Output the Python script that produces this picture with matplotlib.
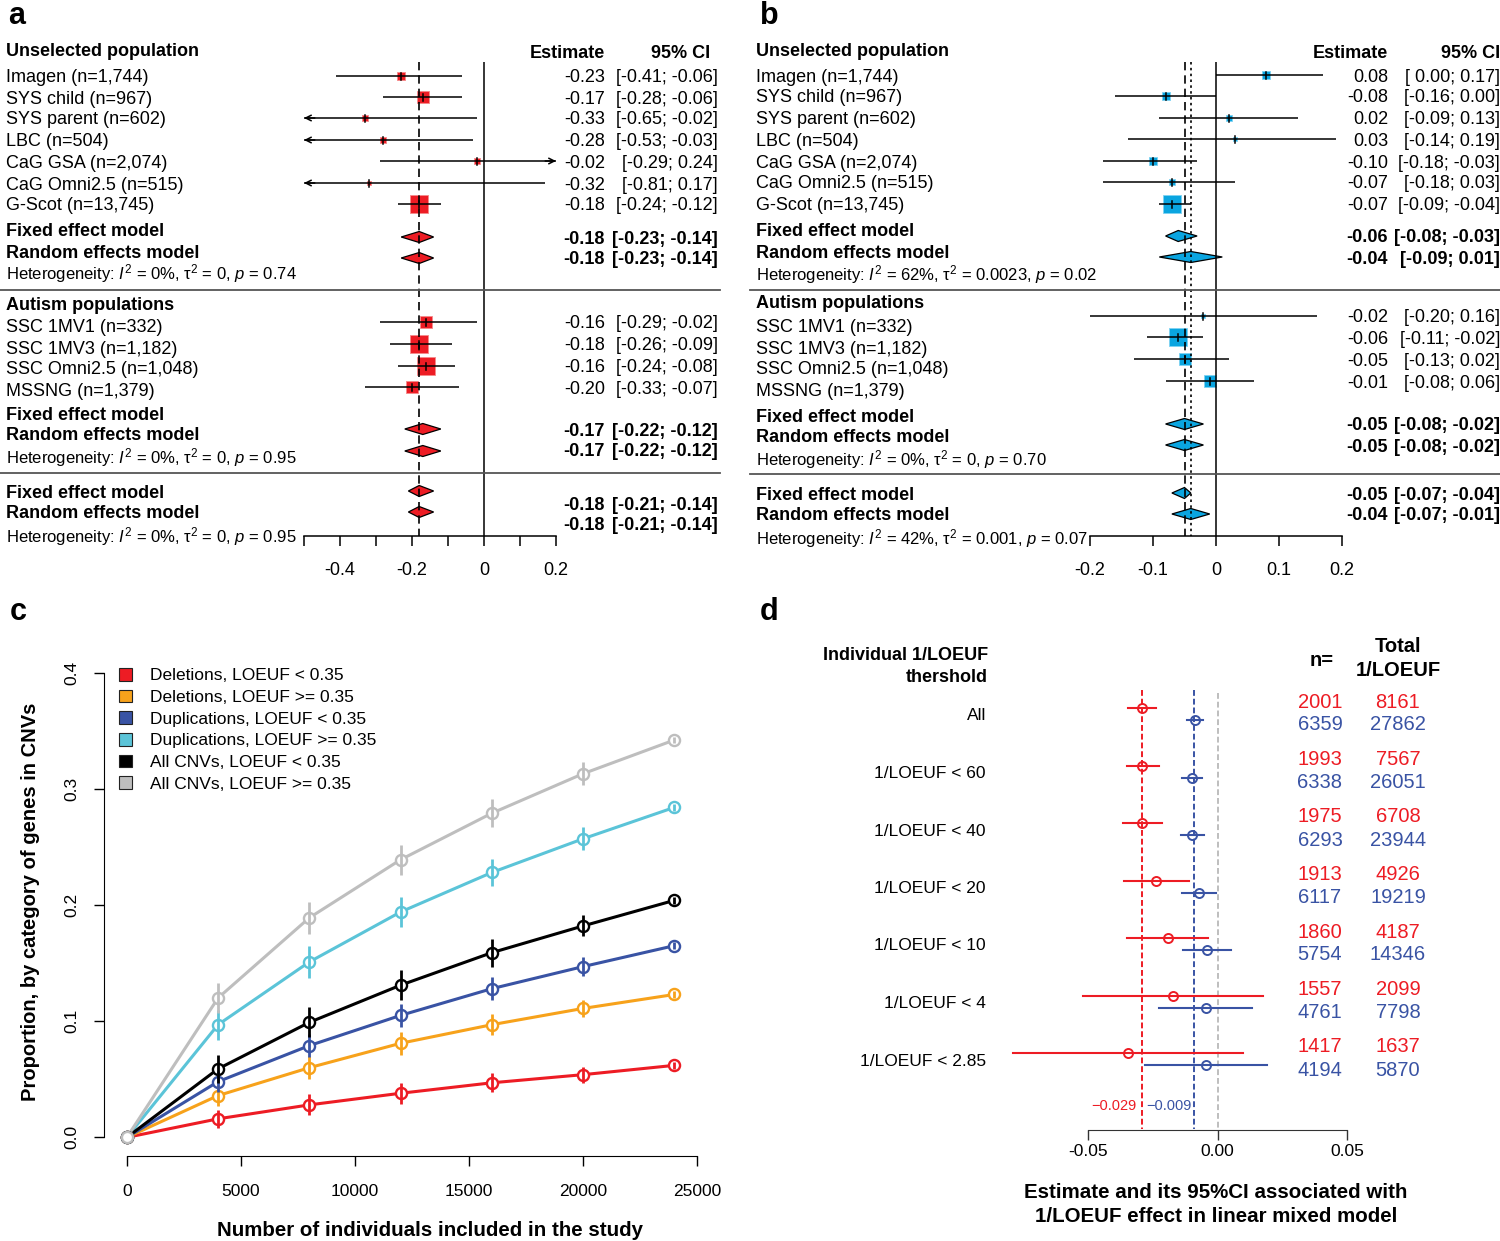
"""Four-panel figure: two meta-analysis forest plots (a, b), CNV gene
proportions vs sample size (c) and 1/LOEUF threshold estimates (d)."""

import matplotlib
matplotlib.use("Agg")
import matplotlib.pyplot as plt
from matplotlib.transforms import Affine2D
from matplotlib.patches import Polygon, Patch

W, H = 1500, 1241

plt.rcParams["font.family"] = ["Liberation Sans", "DejaVu Sans"]
plt.rcParams["mathtext.fontset"] = "custom"
plt.rcParams["mathtext.rm"] = "Liberation Sans"
plt.rcParams["mathtext.it"] = "Liberation Sans:italic"
plt.rcParams["mathtext.bf"] = "Liberation Sans:bold"

# ---------------------------------------------------------------- panel a
a_unsel_names = ["Imagen (n=1,744)", "SYS child (n=967)", "SYS parent (n=602)",
                 "LBC (n=504)", "CaG GSA (n=2,074)", "CaG Omni2.5 (n=515)",
                 "G-Scot (n=13,745)"]
a_unsel_est = [-0.23, -0.17, -0.33, -0.28, -0.02, -0.32, -0.18]
a_unsel_lo = [-0.41, -0.28, -0.65, -0.53, -0.29, -0.81, -0.24]
a_unsel_hi = [-0.06, -0.06, -0.02, -0.03, 0.24, 0.17, -0.12]
a_unsel_weight = [8.5, 21.0, 4.3, 4.3, 4.3, 1.6, 56.0]
a_unsel_fixed = (-0.18, -0.23, -0.14)
a_unsel_random = (-0.18, -0.23, -0.14)
a_unsel_het = ("0%", "0", "0.74")

a_aut_names = ["SSC 1MV1 (n=332)", "SSC 1MV3 (n=1,182)", "SSC Omni2.5 (n=1,048)",
               "MSSNG (n=1,379)"]
a_aut_est = [-0.16, -0.18, -0.16, -0.20]
a_aut_lo = [-0.29, -0.26, -0.24, -0.33]
a_aut_hi = [-0.02, -0.09, -0.08, -0.07]
a_aut_weight = [15.4, 34.6, 34.6, 15.4]
a_aut_fixed = (-0.17, -0.22, -0.12)
a_aut_random = (-0.17, -0.22, -0.12)
a_aut_het = ("0%", "0", "0.95")

a_all_fixed = (-0.18, -0.21, -0.14)
a_all_random = (-0.18, -0.21, -0.14)
a_all_het = ("0%", "0", "0.95")

# ---------------------------------------------------------------- panel b
b_unsel_names = a_unsel_names
b_unsel_est = [0.08, -0.08, 0.02, 0.03, -0.10, -0.07, -0.07]
b_unsel_lo = [0.00, -0.16, -0.09, -0.14, -0.18, -0.18, -0.09]
b_unsel_hi = [0.17, 0.00, 0.13, 0.19, -0.03, 0.03, -0.04]
b_unsel_weight = [8.7, 11.4, 4.4, 2.8, 8.7, 6.4, 57.5]
b_unsel_fixed = (-0.06, -0.08, -0.03)
b_unsel_random = (-0.04, -0.09, 0.01)
b_unsel_het = ("62%", "0.0023", "0.02")

b_aut_names = a_aut_names
b_aut_est = [-0.02, -0.06, -0.05, -0.01]
b_aut_lo = [-0.20, -0.11, -0.13, -0.08]
b_aut_hi = [0.16, -0.02, 0.02, 0.06]
b_aut_weight = [3.7, 53.6, 21.4, 21.4]
b_aut_fixed = (-0.05, -0.08, -0.02)
b_aut_random = (-0.05, -0.08, -0.02)
b_aut_het = ("0%", "0", "0.70")

b_all_fixed = (-0.05, -0.07, -0.04)
b_all_random = (-0.04, -0.07, -0.01)
b_all_het = ("42%", "0.001", "0.07")

# ---------------------------------------------------------------- panel c
c_n = [0, 4000, 8000, 12000, 16000, 20000, 24000]
c_labels = ["Deletions, LOEUF < 0.35", "Deletions, LOEUF >= 0.35",
            "Duplications, LOEUF < 0.35", "Duplications, LOEUF >= 0.35",
            "All CNVs, LOEUF < 0.35", "All CNVs, LOEUF >= 0.35"]
c_del_low = [0, 0.016, 0.028, 0.038, 0.047, 0.054, 0.062]
c_del_high = [0, 0.036, 0.060, 0.081, 0.097, 0.111, 0.123]
c_dup_low = [0, 0.048, 0.079, 0.105, 0.128, 0.147, 0.165]
c_dup_high = [0, 0.097, 0.151, 0.194, 0.228, 0.257, 0.284]
c_all_low = [0, 0.059, 0.099, 0.131, 0.159, 0.182, 0.204]
c_all_high = [0, 0.120, 0.189, 0.239, 0.279, 0.313, 0.342]
c_del_low_err = [0, 0.008, 0.009, 0.009, 0.008, 0.007, 0.003]
c_del_high_err = [0, 0.009, 0.010, 0.010, 0.009, 0.007, 0.003]
c_dup_low_err = [0, 0.009, 0.010, 0.010, 0.010, 0.008, 0.003]
c_dup_high_err = [0, 0.013, 0.014, 0.013, 0.012, 0.010, 0.003]
c_all_low_err = [0, 0.012, 0.013, 0.013, 0.012, 0.009, 0.003]
c_all_high_err = [0, 0.013, 0.014, 0.013, 0.012, 0.010, 0.003]

# ---------------------------------------------------------------- panel d
d_thresholds = ["All", "1/LOEUF < 60", "1/LOEUF < 40", "1/LOEUF < 20",
                "1/LOEUF < 10", "1/LOEUF < 4", "1/LOEUF < 2.85"]
d_del_est = [-0.029, -0.029, -0.029, -0.0237, -0.0191, -0.0172, -0.0346]
d_del_lo = [-0.0346, -0.035, -0.0365, -0.036, -0.0349, -0.0518, -0.079]
d_del_hi = [-0.0237, -0.0226, -0.0214, -0.011, -0.0037, 0.0176, 0.0099]
d_dup_est = [-0.0087, -0.0098, -0.0098, -0.0071, -0.0041, -0.0045, -0.0045]
d_dup_lo = [-0.0118, -0.0137, -0.0141, -0.0137, -0.0133, -0.0225, -0.028]
d_dup_hi = [-0.0056, -0.006, -0.0052, -0.0006, 0.0052, 0.0134, 0.019]
d_del_n = [2001, 1993, 1975, 1913, 1860, 1557, 1417]
d_del_total = [8161, 7567, 6708, 4926, 4187, 2099, 1637]
d_dup_n = [6359, 6338, 6293, 6117, 5754, 4761, 4194]
d_dup_total = [27862, 26051, 23944, 19219, 14346, 7798, 5870]
d_del_mean = -0.029
d_dup_mean = -0.009

RED = "#ED1C24"
CYAN = "#0AA5E0"
BLUE = "#3953A4"
ORANGE = "#F7A21B"
LIGHTBLUE = "#5BC4D8"
GREY = "#BEBEBE"

fig = plt.figure(figsize=(W / 100, H / 100), dpi=100)
PX = Affine2D().scale(1.0 / W, -1.0 / H).translate(0, 1) + fig.transFigure


def txt(x, y, s, **kw):
    # y is where the glyphs look centred; nudge for the descender space
    kw.setdefault("fontsize", 13)
    kw.setdefault("va", "center")
    dy = 0 if kw.get("rotation") else 2
    fig.text(x, y + dy, s, transform=PX, **kw)


def px_axes(x0, x1, xlim):
    """Full-height axes: x in data units, y in figure pixels (top down)."""
    ax = fig.add_axes([x0 / W, 0, (x1 - x0) / W, 1])
    ax.set_xlim(*xlim)
    ax.set_ylim(H, 0)
    ax.patch.set_visible(False)
    for s in ["top", "left", "right"]:
        ax.spines[s].set_visible(False)
    ax.tick_params(left=False, labelleft=False)
    return ax


def diamond(ax, est, lo, hi, y, color):
    ax.add_patch(Polygon([(lo, y), (est, y - 5.5), (hi, y), (est, y + 5.5)],
                         closed=True, facecolor=color, edgecolor="black",
                         lw=0.9, zorder=3, clip_on=False))


def het_text(het):
    i2, tau2, p = het
    return (r"Heterogeneity: $I^2$ = " + i2
            + r", $\mathrm{\tau}^2$ = " + tau2 + r", $p$ = " + p)


def forest(ax, groups, overall, lay, color, edge):
    xmin, xmax = ax.get_xlim()
    xl, xe, xc = lay["x_label"], lay["x_est"], lay["x_ci"]
    txt(xl, 50, "Unselected population", fontweight="bold")
    txt(xe, 52, "Estimate", ha="right", fontweight="bold")
    txt(lay["x_ci_head"], 52, "95% CI", ha="right", fontweight="bold")

    def values(y, est, lo, hi, bold=False):
        fw = "bold" if bold else "normal"
        txt(xe, y, f"{est:.2f}", ha="right", fontweight=fw)
        txt(xc, y, f"[{lo:5.2f}; {hi:.2f}]", ha="right", fontweight=fw)

    for g, (names, est, lo, hi, wt, fixed, random, het) in enumerate(groups):
        if g == 1:
            txt(xl, lay["head2_y"], "Autism populations", fontweight="bold")
        wmax = max(wt)
        for i in range(len(names)):
            ly, my = lay["study_lab_y"][g][i], lay["study_y"][g][i]
            txt(xl, ly, names[i])
            side = 18.5 * (wt[i] / wmax) ** 0.5
            ax.scatter([est[i]], [my], marker="s", s=(side * 0.72) ** 2,
                       color=color, edgecolors=edge, linewidths=0.6,
                       zorder=2, clip_on=False)
            l, h = max(lo[i], xmin), min(hi[i], xmax)
            ax.plot([l, h], [my, my], color="black", lw=1.1, zorder=3,
                    solid_capstyle="butt", clip_on=False)
            ax.plot([est[i], est[i]], [my - 3.5, my + 3.5], color="black",
                    lw=1.1, zorder=3, clip_on=False)
            for end, lim in ((lo[i], xmin), (hi[i], xmax)):
                if (end < lim and lim == xmin) or (end > lim and lim == xmax):
                    back = lim + (0.03 if lim == xmin else -0.03)
                    ax.annotate("", xy=(lim, my), xytext=(back, my),
                                annotation_clip=False,
                                arrowprops=dict(arrowstyle="->", lw=1.1,
                                                color="black", shrinkA=0,
                                                shrinkB=0))
            values(my, est[i], lo[i], hi[i])
        for k, (lab, s) in enumerate([("Fixed effect model", fixed),
                                      ("Random effects model", random)]):
            txt(xl, lay["sum_lab_y"][g][k], lab, fontweight="bold")
            diamond(ax, s[0], s[1], s[2], lay["sum_y"][g][k], color)
            values(lay["sum_val_y"][g][k], *s, bold=True)
        txt(xl, lay["het_y"][g], het_text(het), fontsize=12)
        fig.add_artist(plt.Line2D(lay["sep_x"], [1 - lay["sep_y"][g] / H] * 2,
                                  transform=fig.transFigure, color="#555555",
                                  lw=1.3))

    fixed, random, het = overall
    for k, (lab, s) in enumerate([("Fixed effect model", fixed),
                                  ("Random effects model", random)]):
        txt(xl, lay["sum_lab_y"][2][k], lab, fontweight="bold")
        diamond(ax, s[0], s[1], s[2], lay["sum_y"][2][k], color)
        values(lay["sum_val_y"][2][k], *s, bold=True)
    txt(xl, lay["het_y"][2], het_text(het), fontsize=12)

    ax.vlines(0, 62, 536, color="black", lw=1.1, zorder=4)
    ax.vlines(fixed[0], 62, 536, color="black", lw=1.2, zorder=4,
              linestyles=(0, (5, 3)))
    if random[0] != fixed[0]:
        ax.vlines(random[0], 62, 536, color="black", lw=1.2, zorder=4,
                  linestyles=(0, (1.5, 2)))

    ax.spines["bottom"].set_position(("data", 536))
    ax.spines["bottom"].set_bounds(xmin, xmax)
    ax.spines["bottom"].set_linewidth(1.1)
    ax.tick_params(axis="x", length=7, width=1.1, labelsize=13, pad=12)


def fmt_px(lst):
    return [x / W for x in lst]


# ---- panel a
ax_a = px_axes(304, 556, (-0.5, 0.2))
lay_a = dict(x_label=6, x_est=605, x_ci=718, x_ci_head=710, head2_y=304,
             study_lab_y=[[76, 97, 118, 140, 161, 183, 204], [325, 347, 368, 389]],
             study_y=[[76, 97, 118, 140, 161, 183, 204], [322, 344, 366, 387]],
             sum_lab_y=[[229, 251], [413, 434], [491, 512]],
             sum_y=[[237, 258], [429, 451], [491, 512]],
             sum_val_y=[[237, 258], [429, 450], [503, 524]],
             het_y=[272, 456, 535], sep_y=[290, 473], sep_x=fmt_px([0, 720]))
forest(ax_a,
       [(a_unsel_names, a_unsel_est, a_unsel_lo, a_unsel_hi, a_unsel_weight,
         a_unsel_fixed, a_unsel_random, a_unsel_het),
        (a_aut_names, a_aut_est, a_aut_lo, a_aut_hi, a_aut_weight,
         a_aut_fixed, a_aut_random, a_aut_het)],
       (a_all_fixed, a_all_random, a_all_het), lay_a, RED, "#F58A8A")
ax_a.set_xticks([-0.5, -0.4, -0.3, -0.2, -0.1, 0, 0.1, 0.2])
ax_a.set_xticklabels(["", "-0.4", "", "-0.2", "", "0", "", "0.2"])

# ---- panel b
ax_b = px_axes(1090, 1342, (-0.2, 0.2))
lay_b = dict(x_label=756, x_est=1388, x_ci=1500, x_ci_head=1500, head2_y=302,
             study_lab_y=[[75, 96, 118, 139, 161, 182, 204], [325, 347, 368, 389]],
             study_y=[[75, 96, 118, 139, 161, 182, 204], [316, 337, 359, 381]],
             sum_lab_y=[[229, 251], [415, 436], [493, 514]],
             sum_y=[[236, 257], [424, 445], [493, 514]],
             sum_val_y=[[236, 257], [424, 445], [493, 514]],
             het_y=[273, 458, 537], sep_y=[290, 474], sep_x=fmt_px([750, 1500]))
forest(ax_b,
       [(b_unsel_names, b_unsel_est, b_unsel_lo, b_unsel_hi, b_unsel_weight,
         b_unsel_fixed, b_unsel_random, b_unsel_het),
        (b_aut_names, b_aut_est, b_aut_lo, b_aut_hi, b_aut_weight,
         b_aut_fixed, b_aut_random, b_aut_het)],
       (b_all_fixed, b_all_random, b_all_het), lay_b, CYAN, "#7FD3F2")
ax_b.set_xticks([-0.2, -0.1, 0, 0.1, 0.2])
ax_b.set_xticklabels(["-0.2", "-0.1", "0", "0.1", "0.2"])

# ---- panel c
ax_c = fig.add_axes([104 / W, 1 - 1156 / H, (720 - 104) / W, (1156 - 654) / H])
ax_c.set_xlim(-1000, 26000)
ax_c.set_ylim(-0.016, 0.416)
series = [(c_del_low, c_del_low_err, RED), (c_del_high, c_del_high_err, ORANGE),
          (c_dup_low, c_dup_low_err, BLUE), (c_dup_high, c_dup_high_err, LIGHTBLUE),
          (c_all_low, c_all_low_err, "black"), (c_all_high, c_all_high_err, GREY)]
for vals, err, col in series:
    ax_c.plot(c_n, vals, color=col, lw=2.2, zorder=2)
for vals, err, col in series:
    ax_c.plot(c_n, vals, "o", mfc="white", mec=col, ms=8, mew=1.7, zorder=3)
    ax_c.vlines(c_n[1:], [v - e for v, e in zip(vals[1:], err[1:])],
                [v + e for v, e in zip(vals[1:], err[1:])], color=col, lw=2,
                zorder=4)
for s in ["top", "right"]:
    ax_c.spines[s].set_visible(False)
ax_c.spines["left"].set_bounds(0, 0.4)
ax_c.spines["bottom"].set_bounds(0, 25000)
ax_c.set_xticks([0, 5000, 10000, 15000, 20000, 25000])
ax_c.set_yticks([0, 0.1, 0.2, 0.3, 0.4])
ax_c.set_yticklabels(["0.0", "0.1", "0.2", "0.3", "0.4"], rotation=90,
                     va="center")
ax_c.tick_params(axis="both", length=7, width=1, labelsize=12.5)
ax_c.tick_params(axis="x", pad=13)
ax_c.tick_params(axis="y", pad=11)
handles = [Patch(facecolor=col, edgecolor="#222222", lw=0.8) for _, _, col in series]
ax_c.legend(handles, c_labels, loc="upper left",
            bbox_to_anchor=(119 / W, 1 - 668 / H), bbox_transform=fig.transFigure,
            frameon=False, fontsize=12.5, handlelength=0.75, handleheight=0.75,
            handletextpad=1.05, labelspacing=0.36, borderpad=0, borderaxespad=0)
txt(430, 1229, "Number of individuals included in the study",
    ha="center", fontweight="bold", fontsize=14.8)
txt(31, 902, "Proportion, by category of genes in CNVs", ha="center",
    fontweight="bold", fontsize=14.5, rotation=90)

# ---- panel d
D0, DS = 1217.5, 2590.0
ax_d = px_axes(1000, 1360, ((1000 - D0) / DS, (1360 - D0) / DS))
step = 57.5
for i in range(len(d_thresholds)):
    yr, yb = 708 + step * i, 720 + step * i
    ax_d.plot([d_del_lo[i], d_del_hi[i]], [yr, yr], color=RED, lw=1.5, zorder=3)
    ax_d.plot([d_del_est[i]], [yr], "o", mfc="none", mec=RED, ms=6.5, mew=1.4,
              zorder=4)
    ax_d.plot([d_dup_lo[i], d_dup_hi[i]], [yb, yb], color=BLUE, lw=1.5, zorder=3)
    ax_d.plot([d_dup_est[i]], [yb], "o", mfc="none", mec=BLUE, ms=6.5, mew=1.4,
              zorder=4)
    txt(986, 714 + step * i, d_thresholds[i], ha="right", fontsize=12.5)
    txt(1320, 700 + step * i, str(d_del_n[i]), ha="center", fontsize=14.5, color=RED)
    txt(1320, 723 + step * i, str(d_dup_n[i]), ha="center", fontsize=14.5, color=BLUE)
    txt(1398, 700 + step * i, str(d_del_total[i]), ha="center", fontsize=14.5,
        color=RED)
    txt(1398, 723 + step * i, str(d_dup_total[i]), ha="center", fontsize=14.5,
        color=BLUE)
ax_d.vlines(d_del_mean, 690, 1129, color=RED, lw=1.4, linestyles=(0, (3, 1.5)),
            zorder=2)
ax_d.vlines(d_dup_mean, 690, 1129, color=BLUE, lw=1.4, linestyles=(0, (3, 1.5)),
            zorder=2)
ax_d.vlines(0, 693, 1129, color=GREY, lw=1.4, linestyles=(0, (3, 1.5)), zorder=1)
txt(1136, 1104, "\u22120.029", ha="right", fontsize=10.5, color=RED)
txt(1146, 1104, "\u22120.009", ha="left", fontsize=10.5, color=BLUE)
ax_d.spines["bottom"].set_position(("data", 1130))
ax_d.spines["bottom"].set_bounds(-0.05, 0.05)
ax_d.spines["bottom"].set_color("#333333")
ax_d.set_xticks([-0.05, 0, 0.05])
ax_d.set_xticklabels(["-0.05", "0.00", "0.05"])
ax_d.tick_params(axis="x", length=7, width=1, labelsize=12.5, pad=3,
                 color="#333333")
txt(988, 653, "Individual 1/LOEUF", ha="right", fontweight="bold", fontsize=13)
txt(988, 675, "thershold", ha="right", fontweight="bold", fontsize=13)
txt(1322, 658, "n=", ha="center", fontweight="bold", fontsize=14.5)
txt(1398, 645, "Total", ha="center", fontweight="bold", fontsize=14.5)
txt(1398, 669, "1/LOEUF", ha="center", fontweight="bold", fontsize=14.5)
txt(1216, 1191, "Estimate and its 95%CI associated with", ha="center",
    fontweight="bold", fontsize=14.8)
txt(1216, 1215, "1/LOEUF effect in linear mixed model", ha="center",
    fontweight="bold", fontsize=14.8)

# ---- panel letters
for x, y, s in [(8, 14, "a"), (760, 14, "b"), (10, 610, "c"), (760, 610, "d")]:
    txt(x, y, s, fontweight="bold", fontsize=22)

fig.savefig("out.png", dpi=100)
plt.close(fig)
